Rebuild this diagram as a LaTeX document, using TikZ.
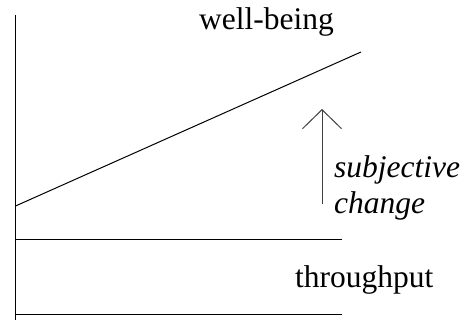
\documentclass[tikz,border=0pt]{standalone}
\usepackage{fontspec}
\setmainfont{Liberation Serif}[ItalicFont={Liberation Serif Italic}]
\usetikzlibrary{arrows.meta}
\begin{document}
\begin{tikzpicture}[x=1pt,y=-1pt,
  ln/.style={line width=1pt,black},
  lbl/.style={anchor=base west,inner sep=0pt,font=\fontsize{31.5}{35}\selectfont},
  ilbl/.style={anchor=base west,inner sep=0pt,font=\fontsize{31.5}{35}\selectfont\itshape}]
\useasboundingbox (0,0) rectangle (470,320);
\coordinate (axtop) at (15.5,15);
\coordinate (axbot) at (15.5,320);
\coordinate (wbL) at (15.5,206);
\coordinate (wbR) at (361,52);
\coordinate (t1L) at (15.5,239);
\coordinate (t1R) at (342,239);
\coordinate (t2L) at (15.5,314);
\coordinate (t2R) at (342,314);
\coordinate (arB) at (322,204);
\coordinate (arT) at (322,109);
\draw[ln] (axtop) -- (axbot);
\draw[ln] (wbL) -- (wbR);
\draw[ln] (t1L) -- (t1R);
\draw[ln] (t2L) -- (t2R);
\draw[ln,black!75,-{Straight Barb[length=19pt,width=39pt,line width=1pt]}] (arB) -- (arT);
\node[lbl] (wb) at (199,30) {well-being};
\node[lbl] (tp) at (295,287) {throughput};
\node[ilbl] (sc1) at (334,178) {subjective};
\node[ilbl] (sc2) at (334,213) {change};
\end{tikzpicture}
\end{document}
